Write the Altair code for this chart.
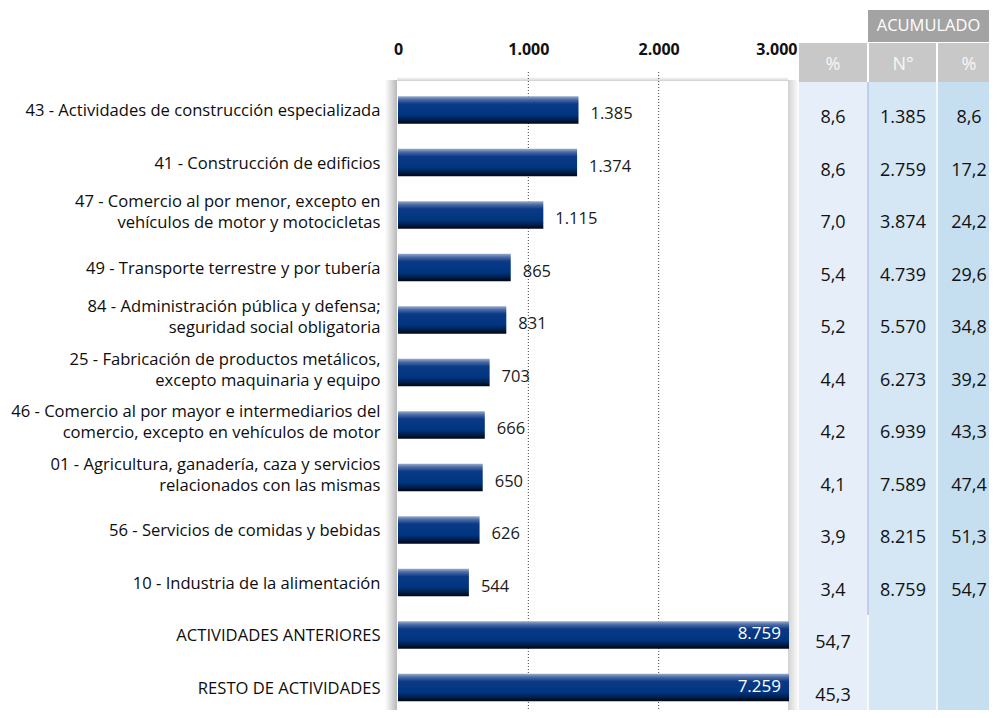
import altair as alt
import pandas as pd

# ---------------- data ----------------
labels = [
    "43 - Actividades de construcción especializada",
    "41 - Construcción de edificios",
    "47 - Comercio al por menor, excepto en|vehículos de motor y motocicletas",
    "49 - Transporte terrestre y por tubería",
    "84 - Administración pública y defensa;|seguridad social obligatoria",
    "25 - Fabricación de productos metálicos,|excepto maquinaria y equipo",
    "46 - Comercio al por mayor e intermediarios del|comercio, excepto en vehículos de motor",
    "01 - Agricultura, ganadería, caza y servicios|relacionados con las mismas",
    "56 - Servicios de comidas y bebidas",
    "10 - Industria de la alimentación",
    "ACTIVIDADES ANTERIORES",
    "RESTO DE ACTIVIDADES",
]
values = [1385, 1374, 1115, 865, 831, 703, 666, 650, 626, 544, 8759, 7259]
pct = [8.6, 8.6, 7.0, 5.4, 5.2, 4.4, 4.2, 4.1, 3.9, 3.4, 54.7, 45.3]
cum_n = [1385, 2759, 3874, 4739, 5570, 6273, 6939, 7589, 8215, 8759, None, None]
cum_pct = [8.6, 17.2, 24.2, 29.6, 34.8, 39.2, 43.3, 47.4, 51.3, 54.7, None, None]
tick_values = [0, 1000, 2000, 3000]
grid_values = [1000, 2000]
col_headers = ["%", "N°", "%"]
group_header = "ACUMULADO"

# ---------------- layout ----------------
FONT = "Open Sans"
PAD_L, PAD_T = 390, 74
PLOT_W = 591
PLOT_H = 628
BAR_RANGE = 391
X_MAX = 3000
TABLE_RANGE = [401, 591]
col_edges = [0, 69, 138, 190]
col_centers = [34, 104, 170]
col_fills = ["#e6eff9", "#d5e6f4", "#c5dff1"]


def es_int(v):
    return f"{int(round(v)):,}".replace(",", ".")


def es_dec(v):
    return f"{v:.1f}".replace(".", ",")


df = pd.DataFrame({"label": labels, "value": values})
df["lab"] = [es_int(v) for v in values]

cells = []
for lab, p, cn, cp in zip(labels, pct, cum_n, cum_pct):
    cells.append({"label": lab, "cx": col_centers[0], "t": es_dec(p)})
    if cn is not None:
        cells.append({"label": lab, "cx": col_centers[1], "t": es_int(cn)})
        cells.append({"label": lab, "cx": col_centers[2], "t": es_dec(cp)})
cells_df = pd.DataFrame(cells)

cols_df = pd.DataFrame({
    "c0": col_edges[:-1], "c1": col_edges[1:], "fill": col_fills,
    "cx": col_centers, "h": col_headers,
})
one = pd.DataFrame({"a": [0]})
grid_df = pd.DataFrame({"g": grid_values})

# ---------------- scales / shared encodings ----------------
yscale = alt.Scale(domain=labels, paddingInner=0.476, paddingOuter=0.219, align=0.62)
Y = alt.Y(
    "label:N", sort=labels, scale=yscale,
    axis=alt.Axis(
        title=None, orient="left", ticks=False, domain=False, grid=False,
        labelExpr="split(datum.label, '|')", labelFont=FONT, labelFontSize=16.6,
        labelColor="#0d0d0d", labelPadding=18,
        labelLineHeight=21, labelLimit=440,
        labelOffset={"expr": "indexof(datum.label, '|') >= 0 ? -13 : 1"},
    ),
)
xscale = alt.Scale(domain=[0, X_MAX], range=[0, BAR_RANGE], clamp=False)
xaxis = alt.Axis(
    title=None, orient="top", values=tick_values, ticks=False, tickSize=0,
    domain=False, grid=False, labelFlush=False,
    labelExpr="replace(format(datum.value, ','), ',', '.')",
    labelAlign={"expr": f"datum.value >= {X_MAX} ? 'right' : 'center'"},
    labelOffset={"expr": f"datum.value >= {X_MAX} ? 8 : 0"},
    labelFont=FONT, labelFontSize=16, labelFontWeight="bold", labelColor="#111111",
    labelPadding=25,
)
tscale = alt.Scale(domain=[0, col_edges[-1]], range=TABLE_RANGE)

bar_grad = {
    "gradient": "linear", "x1": 0, "y1": 0, "x2": 0, "y2": 1,
    "stops": [
        {"offset": 0.0, "color": "#9aaccd"},
        {"offset": 0.12, "color": "#4d6ca6"},
        {"offset": 0.28, "color": "#0b3a86"},
        {"offset": 0.68, "color": "#00357f"},
        {"offset": 0.86, "color": "#001d4a"},
        {"offset": 1.0, "color": "#00060f"},
    ],
}
left_shadow = {
    "gradient": "linear", "x1": 0, "y1": 0, "x2": 1, "y2": 0,
    "stops": [{"offset": 0, "color": "#ffffff"}, {"offset": 1, "color": "#b9b9b9"}],
}
right_shadow = {
    "gradient": "linear", "x1": 0, "y1": 0, "x2": 1, "y2": 0,
    "stops": [{"offset": 0, "color": "#d2d2d2"}, {"offset": 1, "color": "#ffffff"}],
}
top_shadow = {
    "gradient": "linear", "x1": 0, "y1": 0, "x2": 0, "y2": 1,
    "stops": [{"offset": 0, "color": "#ffffff"}, {"offset": 1, "color": "#d0d0d0"}],
}

# ---------------- bar panel ----------------
grid = alt.Chart(grid_df).mark_rule(color="#444444", strokeDash=[1, 2], strokeWidth=1).encode(
    x=alt.X("g:Q", scale=xscale, axis=xaxis), y=alt.value(-10), y2=alt.value(PLOT_H + 10)
)
sh_left = alt.Chart(one).mark_rect(color=left_shadow).encode(
    x=alt.value(-13), x2=alt.value(-1), y=alt.value(-2), y2=alt.value(PLOT_H + 10)
)
sh_right = alt.Chart(one).mark_rect(color=right_shadow).encode(
    x=alt.value(BAR_RANGE - 1), x2=alt.value(TABLE_RANGE[0]), y=alt.value(-2), y2=alt.value(PLOT_H + 10)
)
sh_top = alt.Chart(one).mark_rect(color=top_shadow).encode(
    x=alt.value(-1), x2=alt.value(BAR_RANGE - 1), y=alt.value(-5), y2=alt.value(-1)
)
base = alt.Chart(df).transform_calculate(vclip=f"min(datum.value, {X_MAX})")
bars = base.mark_bar(color=bar_grad).encode(
    x=alt.X("vclip:Q", scale=xscale, axis=xaxis), y=Y
)
lab_out = base.transform_filter(f"datum.value <= {X_MAX}").mark_text(
    align="left", baseline="middle", dx=12, dy=4, font=FONT, fontSize=16.5, color="#1a1a1a"
).encode(x=alt.X("vclip:Q", scale=xscale, axis=xaxis), y=Y, text="lab:N")
lab_in = base.transform_filter(f"datum.value > {X_MAX}").mark_text(
    align="right", baseline="middle", dx=-8, dy=-1, font=FONT, fontSize=17, color="#ffffff"
).encode(x=alt.X("vclip:Q", scale=xscale, axis=xaxis), y=Y, text="lab:N")

bar_panel = alt.layer(sh_left, sh_right, sh_top, grid, bars, lab_out, lab_in)

# ---------------- table panel ----------------
TX = lambda f: alt.X(f, scale=tscale, axis=None)
col_bg = alt.Chart(cols_df).mark_rect().encode(
    x=TX("c0:Q"), x2="c1:Q", y=alt.value(0), y2=alt.value(PLOT_H + 20),
    color=alt.Color("fill:N", scale=None),
)
sep_purple = alt.Chart(one).mark_rule(color="#a7afd8", strokeWidth=1).encode(
    x=alt.X("a:Q", scale=tscale, axis=None), y=alt.value(0), y2=alt.value(533)
).transform_calculate(a=str(col_edges[1]))
sep_white1 = alt.Chart(one).mark_rule(color="#ffffff", strokeWidth=1.5).encode(
    x=alt.X("a:Q", scale=tscale, axis=None), y=alt.value(533), y2=alt.value(PLOT_H + 20)
).transform_calculate(a=str(col_edges[1]))
sep_white2 = alt.Chart(one).mark_rule(color="#ffffff", strokeWidth=1.5).encode(
    x=alt.X("a:Q", scale=tscale, axis=None), y=alt.value(0), y2=alt.value(PLOT_H + 20)
).transform_calculate(a=str(col_edges[2]))
hdr_bg = alt.Chart(cols_df).mark_rect(color="#c8c8c8").encode(
    x=TX("c0:Q"), x2="c1:Q", y=alt.value(-39), y2=alt.value(0)
)
acc_bg = alt.Chart(one).mark_rect(color="#a3a3a3").encode(
    x=alt.X("a:Q", scale=tscale, axis=None), x2="b:Q", y=alt.value(-72), y2=alt.value(-40)
).transform_calculate(a=str(col_edges[1]), b=str(col_edges[3]))
hdr_sep = alt.Chart(pd.DataFrame({"a": col_edges[1:3]})).mark_rule(color="#ffffff", strokeWidth=2).encode(
    x=alt.X("a:Q", scale=tscale, axis=None), y=alt.value(-39), y2=alt.value(0)
)
hdr_txt = alt.Chart(cols_df).mark_text(
    font=FONT, fontSize=18, color="#f7f7f7", baseline="middle"
).encode(x=TX("cx:Q"), y=alt.value(-17), text="h:N")
acc_txt = alt.Chart(one).mark_text(
    font=FONT, fontSize=16.5, color="#ffffff", baseline="middle", text=group_header
).encode(x=alt.X("a:Q", scale=tscale, axis=None), y=alt.value(-56)).transform_calculate(
    a=str((col_edges[1] + col_edges[3]) / 2)
)
cell_txt = alt.Chart(cells_df).mark_text(
    font=FONT, fontSize=18, color="#111111", baseline="middle", dy=8
).encode(x=TX("cx:Q"), y=Y, text="t:N")

table_panel = alt.layer(
    col_bg, sep_purple, sep_white1, sep_white2, hdr_bg, acc_bg, hdr_sep, hdr_txt, acc_txt, cell_txt
)

chart = (
    alt.layer(bar_panel, table_panel)
    .resolve_scale(x="independent")
    .properties(
        width=PLOT_W, height=PLOT_H, autosize="none",
        padding={"left": PAD_L, "top": PAD_T, "right": 0, "bottom": 0},
        background="#ffffff",
    )
    .configure_view(stroke=None)
)

chart.save("out.html", embed_options={"renderer": "svg", "actions": False})
